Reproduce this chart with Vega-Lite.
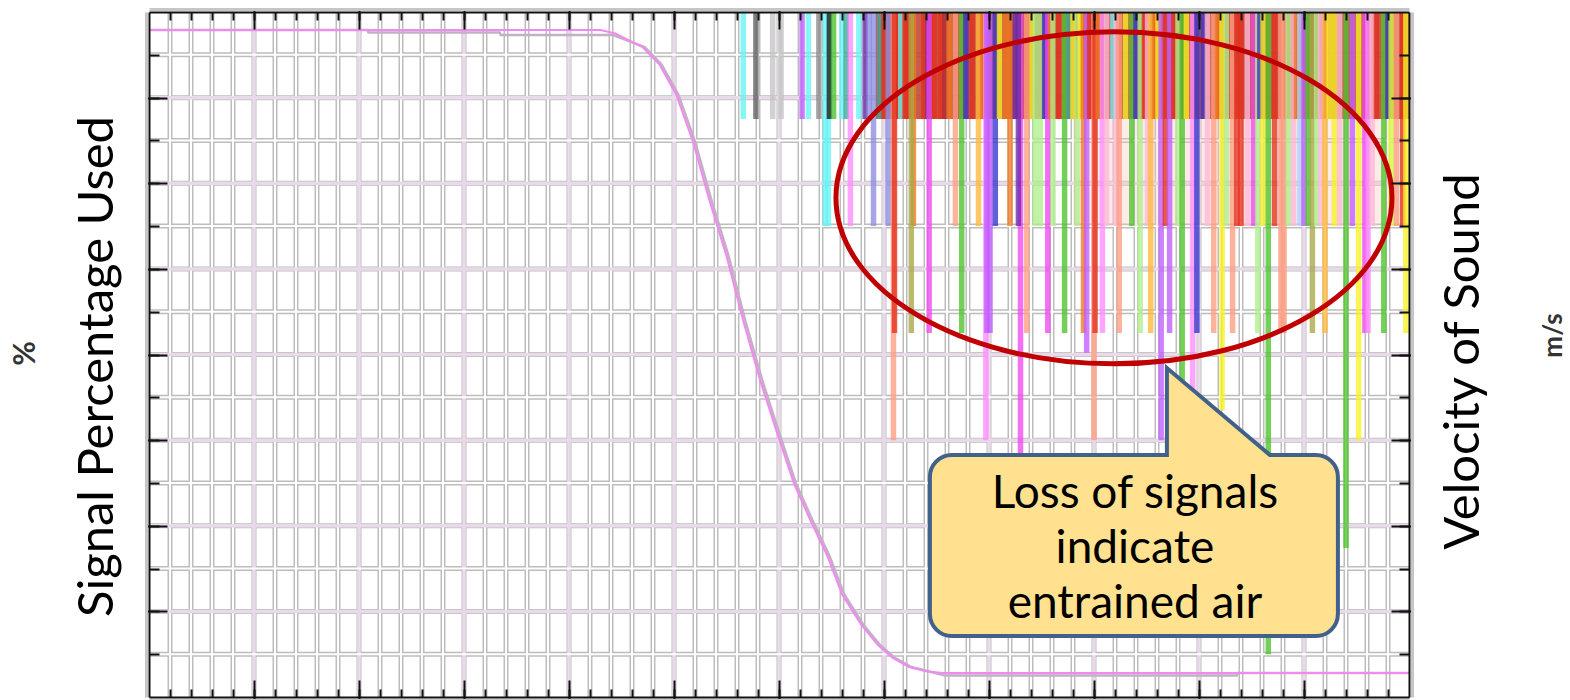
{
  "$schema": "https://vega.github.io/schema/vega-lite/v6.json",
  "width": 1260,
  "height": 685,
  "autosize": {"type": "none"},
  "padding": {"left": 149, "top": 12, "right": 161, "bottom": 3},
  "background": "#ffffff",
  "config": {"view": {"stroke": null}},
  "datasets": {
    "gx": [
      {"v":1,"k":"minor"},{"v":2,"k":"minor"},{"v":3,"k":"minor"},{"v":4,"k":"minor"},{"v":5,"k":"major"},
      {"v":6,"k":"minor"},{"v":7,"k":"minor"},{"v":8,"k":"minor"},{"v":9,"k":"minor"},{"v":10,"k":"major"},
      {"v":11,"k":"minor"},{"v":12,"k":"minor"},{"v":13,"k":"minor"},{"v":14,"k":"minor"},{"v":15,"k":"major"},
      {"v":16,"k":"minor"},{"v":17,"k":"minor"},{"v":18,"k":"minor"},{"v":19,"k":"minor"},{"v":20,"k":"major"},
      {"v":21,"k":"minor"},{"v":22,"k":"minor"},{"v":23,"k":"minor"},{"v":24,"k":"minor"},{"v":25,"k":"major"},
      {"v":26,"k":"minor"},{"v":27,"k":"minor"},{"v":28,"k":"minor"},{"v":29,"k":"minor"},{"v":30,"k":"major"},
      {"v":31,"k":"minor"},{"v":32,"k":"minor"},{"v":33,"k":"minor"},{"v":34,"k":"minor"},{"v":35,"k":"major"},
      {"v":36,"k":"minor"},{"v":37,"k":"minor"},{"v":38,"k":"minor"},{"v":39,"k":"minor"},{"v":40,"k":"major"},
      {"v":41,"k":"minor"},{"v":42,"k":"minor"},{"v":43,"k":"minor"},{"v":44,"k":"minor"},{"v":45,"k":"major"},
      {"v":46,"k":"minor"},{"v":47,"k":"minor"},{"v":48,"k":"minor"},{"v":49,"k":"minor"},{"v":50,"k":"major"},
      {"v":51,"k":"minor"},{"v":52,"k":"minor"},{"v":53,"k":"minor"},{"v":54,"k":"minor"},{"v":55,"k":"major"},
      {"v":56,"k":"minor"},{"v":57,"k":"minor"},{"v":58,"k":"minor"},{"v":59,"k":"minor"}
    ],
    "gy": [
      {"v":5,"k":"minor"},{"v":10,"k":"major"},{"v":15,"k":"minor"},{"v":20,"k":"major"},{"v":25,"k":"minor"},
      {"v":30,"k":"major"},{"v":35,"k":"minor"},{"v":40,"k":"major"},{"v":45,"k":"minor"},{"v":50,"k":"major"},
      {"v":55,"k":"minor"},{"v":60,"k":"major"},{"v":65,"k":"minor"},{"v":70,"k":"major"},{"v":75,"k":"minor"}
    ],
    "bands": [
      {"x":34.6,"x2":60,"b":67.5,"t":80,"p":"top"},
      {"x":44.0,"x2":60,"b":55,"t":67.5,"p":"mid"}
    ],
    "bars": [
      {"x":28.3,"b":67.5,"p":"c09"},{"x":28.9,"b":67.5,"p":"c23"},{"x":29.7,"b":67.5,"p":"c24"},{"x":30.1,"b":67.5,"p":"c24"},
      {"x":31.1,"b":67.5,"p":"c12"},{"x":31.4,"b":67.5,"p":"c09"},{"x":31.9,"b":67.5,"p":"c16"},{"x":32.2,"b":55,"p":"c09"},
      {"x":32.35,"b":55,"p":"c09"},{"x":32.4,"b":67.5,"p":"c17"},{"x":32.6,"b":67.5,"p":"c07"},{"x":33.0,"b":67.5,"p":"c09"},
      {"x":33.2,"b":67.5,"p":"c19"},{"x":33.4,"b":55,"p":"c10"},{"x":33.8,"b":67.5,"p":"c09"},{"x":34.1,"b":67.5,"p":"c04"},
      {"x":34.3,"b":67.5,"p":"c18"},{"x":34.5,"b":55,"p":"c18"},{"x":34.8,"b":67.5,"p":"c19"},{"x":35.0,"b":67.5,"p":"c01"},
      {"x":35.2,"b":55,"p":"c18"},{"x":35.45,"b":30,"p":"c13"},{"x":35.5,"b":42.5,"p":"c01"},{"x":35.7,"b":67.5,"p":"c01"},
      {"x":35.8,"b":67.5,"p":"c09"},{"x":36.0,"b":67.5,"p":"c01"},{"x":36.2,"b":67.5,"p":"c01"},{"x":36.4,"b":55,"p":"c02"},
      {"x":36.3,"b":42.5,"p":"c08"},{"x":36.9,"b":67.5,"p":"c01"},{"x":37.1,"b":67.5,"p":"c04"},{"x":37.15,"b":42.5,"p":"c11"},
      {"x":37.4,"b":67.5,"p":"c01"},{"x":37.7,"b":67.5,"p":"c01"},{"x":37.9,"b":67.5,"p":"c03"},{"x":38.1,"b":67.5,"p":"c02"},
      {"x":38.4,"b":55,"p":"c13"},{"x":38.7,"b":42.5,"p":"c07"},{"x":38.9,"b":67.5,"p":"c05"},{"x":39.2,"b":67.5,"p":"c01"},
      {"x":39.5,"b":55,"p":"c21"},{"x":39.7,"b":67.5,"p":"c02"},{"x":39.85,"b":30,"p":"c10"},{"x":39.9,"b":42.5,"p":"c12"},
      {"x":40.05,"b":42.5,"p":"c12"},{"x":40.3,"b":55,"p":"c05"},{"x":40.5,"b":67.5,"p":"c06"},{"x":40.8,"b":67.5,"p":"c02"},
      {"x":41.0,"b":55,"p":"c02"},{"x":41.25,"b":67.5,"p":"c04"},{"x":41.5,"b":28.5,"p":"c11"},{"x":41.4,"b":55,"p":"c04"},
      {"x":41.8,"b":42.5,"p":"c13"},{"x":42.05,"b":67.5,"p":"c06"},{"x":42.2,"b":55,"p":"c14"},{"x":42.45,"b":55,"p":"c14"},
      {"x":42.65,"b":67.5,"p":"c05"},{"x":42.8,"b":42.5,"p":"c11"},{"x":42.95,"b":67.5,"p":"c02"},{"x":43.05,"b":55,"p":"c14"},
      {"x":43.3,"b":67.5,"p":"c01"},{"x":43.6,"b":42.5,"p":"c07"},{"x":43.8,"b":67.5,"p":"c19"},
      {"x":44.0,"b":67.5,"p":"c06"},{"x":44.2,"b":55,"p":"c14"},{"x":44.35,"b":67.5,"p":"c06"},{"x":44.5,"b":42.5,"p":"c02"},
      {"x":44.65,"b":40.2,"p":"c12"},{"x":44.8,"b":67.5,"p":"c01"},{"x":45.0,"b":30,"p":"c13"},{"x":45.05,"b":42.5,"p":"c01"},
      {"x":45.2,"b":67.5,"p":"c02"},{"x":45.4,"b":42.5,"p":"c10"},{"x":45.6,"b":55,"p":"c20"},{"x":45.9,"b":67.5,"p":"c09"},
      {"x":46.05,"b":55,"p":"c20"},
      {"x":46.2,"b":42.5,"p":"c13"},{"x":46.5,"b":67.5,"p":"c06"},{"x":46.8,"b":55,"p":"c07"},{"x":47.0,"b":67.5,"p":"c05"},
      {"x":47.2,"b":42.5,"p":"c14"},{"x":47.4,"b":67.5,"p":"c01"},{"x":47.55,"b":55,"p":"c20"},{"x":47.7,"b":42.5,"p":"c21"},{"x":47.9,"b":67.5,"p":"c02"},
      {"x":48.05,"b":67.5,"p":"c06"},{"x":48.2,"b":30,"p":"c12"},{"x":48.4,"b":55,"p":"c01"},{"x":48.6,"b":42.5,"p":"c12"},
      {"x":48.8,"b":67.5,"p":"c01"},{"x":49.0,"b":55,"p":"c14"},{"x":49.2,"b":34,"p":"c07"},{"x":49.4,"b":67.5,"p":"c06"},{"x":49.7,"b":35.6,"p":"c10"},
      {"x":49.9,"b":42.5,"p":"c05"},{"x":50.2,"b":67.5,"p":"c05"},{"x":50.4,"b":55,"p":"c20"},{"x":50.7,"b":42.5,"p":"c13"},
      {"x":50.9,"b":67.5,"p":"c02"},{"x":51.1,"b":33.5,"p":"c06"},{"x":51.3,"b":55,"p":"c14"},{"x":51.6,"b":42.5,"p":"c13"},
      {"x":51.8,"b":55,"p":"c01"},{"x":52.0,"b":55,"p":"c01"},{"x":52.3,"b":55,"p":"c20"},{"x":52.6,"b":55,"p":"c11"},
      {"x":52.8,"b":42.5,"p":"c14"},{"x":52.9,"b":67.5,"p":"c05"},{"x":53.05,"b":55,"p":"c06"},{"x":53.3,"b":5,"p":"c07"},
      {"x":53.6,"b":55,"p":"c01"},{"x":53.9,"b":42.5,"p":"c13"},{"x":54.05,"b":42.5,"p":"c13"},{"x":54.25,"b":55,"p":"c14"},
      {"x":54.5,"b":55,"p":"c20"},{"x":54.65,"b":67.5,"p":"c02"},{"x":54.8,"b":55,"p":"c22"},{"x":55.0,"b":55,"p":"c12"},
      {"x":55.2,"b":55,"p":"c07"},{"x":55.4,"b":42.5,"p":"c08"},{"x":55.6,"b":55,"p":"c14"},{"x":55.8,"b":55,"p":"c20"},
      {"x":56.0,"b":42.5,"p":"c21"},{"x":56.2,"b":67.5,"p":"c06"},{"x":56.45,"b":55,"p":"c06"},{"x":56.7,"b":55,"p":"c20"},
      {"x":57.0,"b":17.4,"p":"c07"},{"x":57.3,"b":55,"p":"c12"},{"x":57.6,"b":30,"p":"c06"},{"x":57.9,"b":42.5,"p":"c11"},
      {"x":58.05,"b":42.5,"p":"c10"},{"x":58.25,"b":55,"p":"c20"},{"x":58.45,"b":67.5,"p":"c01"},{"x":58.8,"b":42.5,"p":"c07"},
      {"x":59.0,"b":67.5,"p":"c05"},{"x":59.15,"b":55,"p":"c15"},{"x":59.4,"b":55,"p":"c13"},{"x":59.7,"b":55,"p":"c01"},
      {"x":59.85,"b":42.5,"p":"c06"}
    ],
    "curve": [
      {"x":0,"y":77.9,"s":"a"},{"x":10.4,"y":77.9,"s":"a"},{"x":10.45,"y":77.6,"s":"a"},{"x":16.7,"y":77.6,"s":"a"},
      {"x":16.75,"y":77.3,"s":"a"},{"x":22.1,"y":77.3,"s":"a"},{"x":23.6,"y":75.9,"s":"a"},{"x":24.4,"y":73.9,"s":"a"},
      {"x":25.2,"y":70.4,"s":"a"},{"x":26.0,"y":64.9,"s":"a"},{"x":26.8,"y":57.9,"s":"a"},{"x":27.6,"y":51.5,"s":"a"},
      {"x":28.4,"y":43.9,"s":"a"},{"x":29.2,"y":37.0,"s":"a"},{"x":30.0,"y":30.9,"s":"a"},{"x":30.8,"y":25.0,"s":"a"},
      {"x":31.6,"y":20.6,"s":"a"},{"x":32.4,"y":16.5,"s":"a"},{"x":33.1,"y":12.0,"s":"a"},{"x":34.0,"y":8.5,"s":"a"},
      {"x":34.8,"y":6.1,"s":"a"},{"x":35.5,"y":4.6,"s":"a"},{"x":36.3,"y":3.5,"s":"a"},{"x":37.1,"y":3.0,"s":"a"},
      {"x":37.9,"y":2.5,"s":"a"},{"x":51.8,"y":2.5,"s":"a"},{"x":51.85,"y":2.8,"s":"a"},{"x":60,"y":2.8,"s":"a"},
      {"x":0,"y":77.9,"s":"b"},{"x":21.5,"y":77.9,"s":"b"},{"x":22.2,"y":77.5,"s":"b"},{"x":23.5,"y":75.9,"s":"b"},
      {"x":24.3,"y":73.9,"s":"b"},{"x":25.1,"y":70.4,"s":"b"},{"x":25.9,"y":64.9,"s":"b"},{"x":26.7,"y":57.9,"s":"b"},
      {"x":27.5,"y":51.5,"s":"b"},{"x":28.3,"y":43.9,"s":"b"},{"x":29.1,"y":37.0,"s":"b"},{"x":29.9,"y":30.9,"s":"b"},
      {"x":30.7,"y":25.0,"s":"b"},{"x":31.5,"y":20.6,"s":"b"},{"x":32.3,"y":16.5,"s":"b"},{"x":33.0,"y":12.0,"s":"b"},
      {"x":33.9,"y":8.5,"s":"b"},{"x":34.7,"y":6.1,"s":"b"},{"x":35.4,"y":4.6,"s":"b"},{"x":36.2,"y":3.5,"s":"b"},
      {"x":37.0,"y":3.0,"s":"b"},{"x":37.8,"y":2.8,"s":"b"},{"x":60,"y":2.8,"s":"b"}
    ]
  },
  "resolve": {
    "axis": {"x": "independent", "y": "independent"},
    "scale": {"color": "independent", "strokeWidth": "independent", "opacity": "independent"}
  },
  "layer": [
    {
      "data": {"name": "gx"},
      "mark": {"type": "rule", "color": "#bdbdbd", "strokeWidth": 5},
      "encoding": {
        "x": {"field": "v", "type": "quantitative", "scale": {"domain": [0, 60], "nice": false, "zero": false},
          "axis": {"orient": "bottom", "values": [1,2,3,4,5,6,7,8,9,10,11,12,13,14,15,16,17,18,19,20,21,22,23,24,25,26,27,28,29,30,31,32,33,34,35,36,37,38,39,40,41,42,43,44,45,46,47,48,49,50,51,52,53,54,55,56,57,58,59],
            "tickSize": -8, "tickWidth": 2, "tickColor": "#111111", "labels": false, "grid": false,
            "domain": true, "domainColor": "#111111", "domainWidth": 2, "title": null, "zindex": 2}},
        "y": {"datum": 0, "type": "quantitative", "scale": {"domain": [0, 80], "nice": false, "zero": false},
          "axis": {"orient": "left", "values": [5,10,15,20,25,30,35,40,45,50,55,60,65,70,75],
            "tickSize": -10, "tickWidth": 2, "tickColor": "#111111", "labels": false, "grid": false,
            "domain": true, "domainColor": "#111111", "domainWidth": 2, "zindex": 2,
            "title": "%", "titleFont": "Lato", "titleFontSize": 30, "titleFontWeight": "bold", "titleColor": "#333333",
            "titleAngle": -90, "titleAlign": "center", "titleBaseline": "middle", "titleX": -124, "titleY": 341}},
        "y2": {"datum": 80}
      }
    },
    {
      "data": {"name": "gy"},
      "mark": {"type": "rule", "color": "#bdbdbd", "strokeWidth": 5},
      "encoding": {
        "y": {"field": "v", "type": "quantitative", "scale": {"domain": [0, 80], "nice": false, "zero": false},
          "axis": {"orient": "right", "values": [5,10,15,20,25,30,35,40,45,50,55,60,65,70,75],
            "tickSize": -10, "tickWidth": 2, "tickColor": "#111111", "labels": false, "grid": false,
            "domain": true, "domainColor": "#111111", "domainWidth": 2, "zindex": 2,
            "title": "m/s", "titleFont": "Lato", "titleFontSize": 26, "titleFontWeight": "bold", "titleColor": "#333333",
            "titleAngle": -90, "titleAlign": "center", "titleBaseline": "middle", "titleX": 144, "titleY": 323}},
        "x": {"datum": 0, "type": "quantitative", "scale": {"domain": [0, 60], "nice": false, "zero": false},
          "axis": {"orient": "top", "values": [1,2,3,4,5,6,7,8,9,10,11,12,13,14,15,16,17,18,19,20,21,22,23,24,25,26,27,28,29,30,31,32,33,34,35,36,37,38,39,40,41,42,43,44,45,46,47,48,49,50,51,52,53,54,55,56,57,58,59],
            "tickSize": -8, "tickWidth": 2, "tickColor": "#111111", "labels": false, "grid": false,
            "domain": true, "domainColor": "#111111", "domainWidth": 2, "title": null, "zindex": 2}},
        "x2": {"datum": 60}
      }
    },
    {
      "data": {"name": "gx"},
      "mark": {"type": "rule"},
      "encoding": {
        "x": {"field": "v", "type": "quantitative", "scale": {"domain": [0, 60], "nice": false, "zero": false},
          "axis": {"orient": "bottom", "values": [5,10,15,20,25,30,35,40,45,50,55], "offset": 3,
            "tickSize": -20, "tickWidth": 2, "tickColor": "#111111", "labels": false, "grid": false,
            "domain": true, "domainColor": "#c6c6c6", "domainWidth": 3, "title": null, "zindex": 2}},
        "y": {"datum": 0, "type": "quantitative", "scale": {"domain": [0, 80], "nice": false, "zero": false},
          "axis": {"orient": "left", "values": [10,20,30,40,50,60,70], "offset": 3,
            "tickSize": -21, "tickWidth": 2, "tickColor": "#111111", "labels": false, "grid": false,
            "domain": true, "domainColor": "#c6c6c6", "domainWidth": 3, "zindex": 2,
            "title": "Signal Percentage Used", "titleFont": "Lato", "titleFontSize": 49, "titleFontWeight": "normal", "titleColor": "#000000",
            "titleAngle": -90, "titleAlign": "center", "titleBaseline": "alphabetic", "titleX": -34, "titleY": 354}},
        "y2": {"datum": 80},
        "color": {"field": "k", "type": "nominal", "scale": {"domain": ["minor", "major"], "range": ["#ffffff", "#e9dae9"]}, "legend": null},
        "strokeWidth": {"field": "k", "type": "ordinal", "scale": {"domain": ["minor", "major"], "range": [2, 3.5]}, "legend": null}
      }
    },
    {
      "data": {"name": "gy"},
      "mark": {"type": "rule"},
      "encoding": {
        "y": {"field": "v", "type": "quantitative", "scale": {"domain": [0, 80], "nice": false, "zero": false},
          "axis": {"orient": "right", "values": [10,20,30,40,50,60,70], "offset": 3,
            "tickSize": -21, "tickWidth": 2, "tickColor": "#111111", "labels": false, "grid": false,
            "domain": true, "domainColor": "#c6c6c6", "domainWidth": 3, "zindex": 2,
            "title": "Velocity of Sound", "titleFont": "Lato", "titleFontSize": 49, "titleFontWeight": "normal", "titleColor": "#000000",
            "titleAngle": -90, "titleAlign": "center", "titleBaseline": "alphabetic", "titleX": 66, "titleY": 349}},
        "x": {"datum": 0, "type": "quantitative", "scale": {"domain": [0, 60], "nice": false, "zero": false},
          "axis": {"orient": "top", "values": [5,10,15,20,25,30,35,40,45,50,55], "offset": 3,
            "tickSize": -20, "tickWidth": 2, "tickColor": "#111111", "labels": false, "grid": false,
            "domain": true, "domainColor": "#c6c6c6", "domainWidth": 3, "title": null, "zindex": 2}},
        "x2": {"datum": 60},
        "color": {"field": "k", "type": "nominal", "scale": {"domain": ["minor", "major"], "range": ["#ffffff", "#e9dae9"]}, "legend": null},
        "strokeWidth": {"field": "k", "type": "ordinal", "scale": {"domain": ["minor", "major"], "range": [2, 3.5]}, "legend": null}
      }
    },
    {
      "data": {"name": "bands"},
      "mark": {"type": "rect"},
      "encoding": {
        "x": {"field": "x", "type": "quantitative", "scale": {"domain": [0, 60], "nice": false, "zero": false}, "axis": null},
        "x2": {"field": "x2"},
        "y": {"field": "b", "type": "quantitative", "scale": {"domain": [0, 80], "nice": false, "zero": false}, "axis": null},
        "y2": {"field": "t"},
        "color": {"field": "p", "type": "nominal", "scale": {"domain": ["top", "mid"], "range": ["#c24a38", "#f6c6c0"]}, "legend": null},
        "opacity": {"field": "p", "type": "nominal", "scale": {"domain": ["top", "mid"], "range": [0.9, 0.35]}, "legend": null}
      }
    },
    {
      "data": {"name": "bars"},
      "mark": {"type": "rule", "strokeWidth": 5.5, "opacity": 0.78},
      "encoding": {
        "x": {"field": "x", "type": "quantitative", "scale": {"domain": [0, 60], "nice": false, "zero": false}, "axis": null},
        "y": {"field": "b", "type": "quantitative", "scale": {"domain": [0, 80], "nice": false, "zero": false}, "axis": null},
        "y2": {"datum": 80},
        "color": {"field": "p", "type": "nominal", "legend": null,
          "scale": {"domain": ["c01","c02","c03","c04","c05","c06","c07","c08","c09","c10","c11","c12","c13","c14","c15","c16","c17","c18","c19","c20","c21","c22","c23","c24"],
            "range": ["#e4301c","#f0781e","#b02a3c","#6a2aa8","#3434cc","#f6f224","#4cc42a","#a8a848","#66f4f4","#ff8cff","#f046f0","#c05cff","#ff9c80","#aef08a","#d4ff3c","#8a8a8a","#1a1a1a","#8c8ce0","#3ca898","#ffb8d8","#ffb838","#a8d4ff","#606060","#c4c4c4"]}}
      }
    },
    {
      "data": {"name": "curve"},
      "mark": {"type": "line", "interpolate": "linear"},
      "encoding": {
        "x": {"field": "x", "type": "quantitative", "scale": {"domain": [0, 60], "nice": false, "zero": false}, "axis": null},
        "y": {"field": "y", "type": "quantitative", "scale": {"domain": [0, 80], "nice": false, "zero": false}, "axis": null},
        "color": {"field": "s", "type": "nominal", "scale": {"domain": ["a", "b"], "range": ["#c4b0c4", "#f08af0"]}, "legend": null},
        "strokeWidth": {"field": "s", "type": "ordinal", "scale": {"domain": ["a", "b"], "range": [2.5, 2]}, "legend": null}
      }
    },
    {
      "data": {"values": [{"x": 45.95, "y": 58.3, "label": "region"}]},
      "mark": {"type": "point", "shape": "M-278,0A278,166 0 1,1 278,0A278,166 0 1,1 -278,0Z", "size": 4, "filled": false, "stroke": "#c00000", "strokeWidth": 5, "opacity": 1},
      "encoding": {
        "x": {"field": "x", "type": "quantitative", "scale": {"domain": [0, 60], "nice": false, "zero": false}, "axis": null},
        "y": {"field": "y", "type": "quantitative", "scale": {"domain": [0, 80], "nice": false, "zero": false}, "axis": null}
      }
    },
    {
      "data": {"values": [{"x": 46.9, "y": 17.75, "label": "callout"}]},
      "mark": {"type": "point", "shape": "M-182,-90L33,-90L33,-177L136,-90L182,-90A22,22 0 0,1 204,-68L204,69A22,22 0 0,1 182,91L-182,91A22,22 0 0,1 -204,69L-204,-68A22,22 0 0,1 -182,-90Z", "size": 4, "filled": true, "fill": "#ffe18f", "stroke": "#41608a", "strokeWidth": 4, "opacity": 1},
      "encoding": {
        "x": {"field": "x", "type": "quantitative", "scale": {"domain": [0, 60], "nice": false, "zero": false}, "axis": null},
        "y": {"field": "y", "type": "quantitative", "scale": {"domain": [0, 80], "nice": false, "zero": false}, "axis": null}
      }
    },
    {
      "data": {"values": [{"x": 46.95, "y": 22.07, "label": "text"}]},
      "mark": {"type": "text", "text": ["Loss of signals", "indicate", "entrained air"], "font": "Lato", "fontSize": 46, "lineHeight": 55, "align": "center", "baseline": "alphabetic", "color": "#000000"},
      "encoding": {
        "x": {"field": "x", "type": "quantitative", "scale": {"domain": [0, 60], "nice": false, "zero": false}, "axis": null},
        "y": {"field": "y", "type": "quantitative", "scale": {"domain": [0, 80], "nice": false, "zero": false}, "axis": null}
      }
    }
  ]
}
